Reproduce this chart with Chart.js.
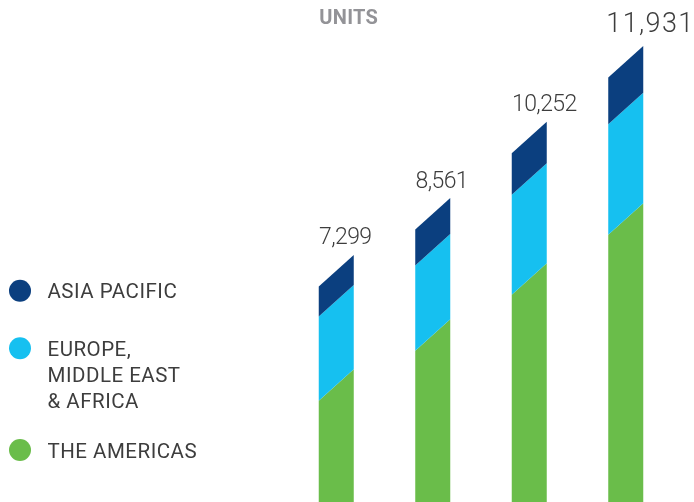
<!DOCTYPE html>
<html>
<head>
<meta charset="utf-8">
<script src="https://cdn.jsdelivr.net/npm/chart.js@4/dist/chart.umd.min.js"></script>
<style>
  html, body { margin: 0; padding: 0; background: #ffffff; overflow: hidden; }
  #wrap { width: 694px; height: 502px; position: relative; }
</style>
</head>
<body>
<div id="wrap"><canvas id="c"></canvas></div>
<script>
// ---- data ----
const categories = ['Year 1', 'Year 2', 'Year 3', 'Year 4'];
const americas = [4765, 5873, 7114, 8444];
const emea = [1868, 1890, 2216, 2451];
const asiaPacific = [666, 798, 922, 1036];
const totalLabels = ['7,299', '8,561', '10,252', '11,931'];
const seriesNames = ['THE AMERICAS', 'EUROPE, MIDDLE EAST & AFRICA', 'ASIA PACIFIC'];
const legendLines = [['ASIA PACIFIC'], ['EUROPE,', 'MIDDLE EAST', '& AFRICA'], ['THE AMERICAS']];
const unitTitle = 'UNITS';

// ---- styles ----
const COLORS = { americas: '#6abd4a', emea: '#16c0f0', asia: '#0b3f7f' };
const TEXT = '#3d3d3d';
const FONT = 'Roboto, "Liberation Sans", sans-serif';

const slantPlugin = {
  id: 'slantBars',
  beforeDatasetsDraw(chart) {
    const ctx = chart.ctx;
    ctx.save();
    chart.data.datasets.forEach((ds, i) => {
      const meta = chart.getDatasetMeta(i);
      meta.data.forEach(bar => {
        const p = bar.getProps(['x', 'y', 'base', 'width'], true);
        const l = p.x - p.width / 2, r = p.x + p.width / 2, s = p.width * 0.9;
        ctx.beginPath();
        ctx.moveTo(l, p.y + s);
        ctx.lineTo(r, p.y);
        ctx.lineTo(r, p.base);
        ctx.lineTo(l, p.base + s);
        ctx.closePath();
        ctx.fillStyle = ds.backgroundColor;
        ctx.fill();
      });
    });
    ctx.restore();
    return false;
  },
  afterDraw(chart) {
    const ctx = chart.ctx;
    ctx.save();
    // totals above bars
    const topMeta = chart.getDatasetMeta(chart.data.datasets.length - 1);
    topMeta.data.forEach((bar, i) => {
      const p = bar.getProps(['x', 'y', 'width'], true);
      const last = i === topMeta.data.length - 1;
      ctx.font = (last ? '300 27px ' : '300 23px ') + FONT;
      ctx.letterSpacing = last ? '1.4px' : '-0.6px';
      ctx.fillStyle = TEXT;
      ctx.textAlign = 'left';
      ctx.textBaseline = 'alphabetic';
      ctx.fillText(totalLabels[i], p.x - p.width / 2 + (last ? -2 : 0.3), p.y - (last ? 14 : 10.5));
    });
    ctx.letterSpacing = '0px';
    // UNITS title, above the first bar
    const b0 = topMeta.data[0].getProps(['x', 'width'], true);
    ctx.font = 'bold 20px ' + FONT;
    ctx.letterSpacing = '0.3px';
    ctx.fillStyle = '#939397';
    ctx.textAlign = 'left';
    ctx.fillText(unitTitle, b0.x - b0.width / 2 + 0.5, 24.3);
    // legend
    const legendColors = [COLORS.asia, COLORS.emea, COLORS.americas];
    const centers = [290.7, 348.3, 450];
    ctx.font = '400 20.5px ' + FONT;
    ctx.letterSpacing = '0.5px';
    legendLines.forEach((lines, k) => {
      ctx.beginPath();
      ctx.arc(20, centers[k], 11, 0, Math.PI * 2);
      ctx.fillStyle = legendColors[k];
      ctx.fill();
      ctx.fillStyle = TEXT;
      lines.forEach((t, j) => ctx.fillText(t, 47.5, centers[k] + 7.6 + j * 26.2));
    });
    ctx.restore();
  }
};

new Chart(document.getElementById('c'), {
  type: 'bar',
  data: {
    labels: categories,
    datasets: [
      { label: seriesNames[0], data: americas, backgroundColor: COLORS.americas },
      { label: seriesNames[1], data: emea, backgroundColor: COLORS.emea },
      { label: seriesNames[2], data: asiaPacific, backgroundColor: COLORS.asia }
    ]
  },
  options: {
    responsive: true,
    maintainAspectRatio: false,
    animation: false,
    layout: { padding: { left: 288, right: 20, top: 0, bottom: 0 } },
    datasets: { bar: { barThickness: 35 } },
    plugins: { legend: { display: false }, tooltip: { enabled: false } },
    scales: {
      x: { display: false, stacked: true, offset: true },
      y: { display: false, stacked: true, min: 1825, max: 12950 }
    }
  },
  plugins: [slantPlugin]
});
</script>
</body>
</html>
